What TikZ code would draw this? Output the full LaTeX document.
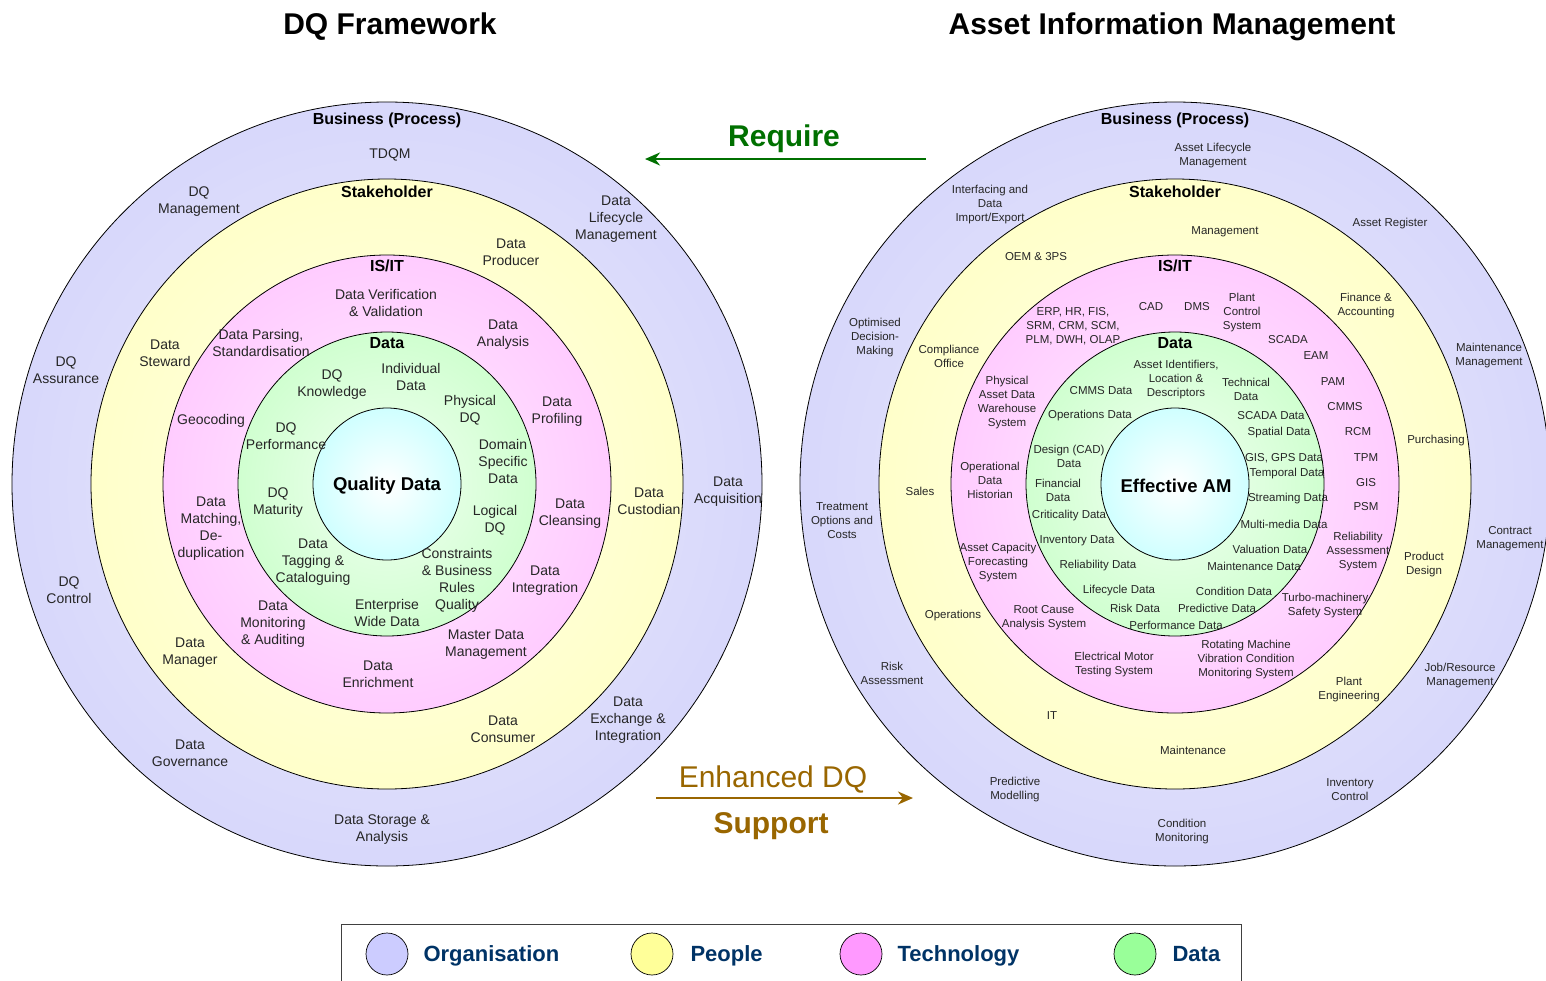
\documentclass[tikz,border=0pt]{standalone}
\usepackage{fontspec}
\setmainfont{Liberation Sans}
\usetikzlibrary{calc,positioning,arrows.meta}

\definecolor{orgRing}{RGB}{208,208,250}
\definecolor{pplRing}{RGB}{255,255,192}
\definecolor{techRing}{RGB}{255,190,255}
\definecolor{dataRing}{RGB}{190,255,190}
\definecolor{coreRing}{RGB}{190,255,255}
\definecolor{orgLeg}{RGB}{204,204,255}
\definecolor{pplLeg}{RGB}{255,255,153}
\definecolor{techLeg}{RGB}{255,153,255}
\definecolor{dataLeg}{RGB}{153,255,153}
\definecolor{legNavy}{RGB}{0,51,102}
\definecolor{reqGreen}{RGB}{0,112,0}
\definecolor{supBrown}{RGB}{153,102,0}

\pgfdeclareradialshading{orgShade}{\pgfpoint{0bp}{0bp}}{color(0bp)=(orgRing!40!white); color(34bp)=(orgRing); color(50bp)=(orgRing)}
\pgfdeclareradialshading{pplShade}{\pgfpoint{0bp}{0bp}}{color(0bp)=(pplRing!40!white); color(34bp)=(pplRing); color(50bp)=(pplRing)}
\pgfdeclareradialshading{techShade}{\pgfpoint{0bp}{0bp}}{color(0bp)=(techRing!30!white); color(36bp)=(techRing); color(50bp)=(techRing)}
\pgfdeclareradialshading{dataShade}{\pgfpoint{0bp}{0bp}}{color(0bp)=(dataRing!20!white); color(38bp)=(dataRing); color(50bp)=(dataRing)}
\pgfdeclareradialshading{coreShade}{\pgfpoint{0bp}{0bp}}{color(0bp)=(white); color(34bp)=(coreRing); color(50bp)=(coreRing)}

\tikzset{
    lbl/.style={font=\fontsize{14}{17}\selectfont, align=center, inner sep=0pt, text=black!85},
    slbl/.style={font=\fontsize{11.5}{14}\selectfont, align=center, inner sep=0pt, text=black!85},
    ringhdr/.style={font=\fontsize{16}{19}\selectfont\bfseries, inner sep=0pt},
    corehdr/.style={font=\fontsize{18.5}{22}\selectfont\bfseries, inner sep=0pt},
    bigtitle/.style={font=\fontsize{30}{34}\selectfont\bfseries, inner sep=0pt,
        text height=22pt, text depth=0pt},
    ring/.style={draw=black, line width=0.8pt},
    legdot/.style={circle, draw=black, line width=0.7pt, minimum size=42pt, inner sep=0pt},
    legtxt/.style={font=\fontsize{22}{26}\selectfont\bfseries, text=legNavy, inner sep=0pt,
        text height=16pt, text depth=1pt, anchor=west}
}

\begin{document}
\begin{tikzpicture}[x=1pt,y=-1pt,>={Stealth[length=15pt,width=13pt]}]

    \useasboundingbox (0,0) rectangle (1546,980);

    %Titres
    \node[bigtitle] (dqTitle) at (390,23) {DQ Framework};
    \node[bigtitle] (amTitle) at (1172,23) {Asset Information Management};

    %Anneaux gauche
    \coordinate (dqCentre) at (387,484);
    \shade[ring, shading=orgShade] (dqCentre) ellipse [x radius=375, y radius=382];
    \shade[ring, shading=pplShade] (dqCentre) ellipse [x radius=296, y radius=305];
    \shade[ring, shading=techShade] (dqCentre) ellipse [x radius=224, y radius=229];
    \shade[ring, shading=dataShade] (dqCentre) ellipse [x radius=149, y radius=152];
    \shade[ring, shading=coreShade] (dqCentre) ellipse [x radius=74, y radius=76];

    %Anneaux droite
    \coordinate (amCentre) at (1175,484);
    \shade[ring, shading=orgShade] (amCentre) ellipse [x radius=375, y radius=382];
    \shade[ring, shading=pplShade] (amCentre) ellipse [x radius=296, y radius=305];
    \shade[ring, shading=techShade] (amCentre) ellipse [x radius=224, y radius=229];
    \shade[ring, shading=dataShade] (amCentre) ellipse [x radius=149, y radius=152];
    \shade[ring, shading=coreShade] (amCentre) ellipse [x radius=74, y radius=76];

    %Gauche - Business
    \node[ringhdr] (dqBusiness) at (387,120) {Business (Process)};
    \node[lbl] (dqTDQM) at (390,155) {TDQM};
    \node[lbl] (dqMgmt) at (199,202) {DQ\\Management};
    \node[lbl] (dqLifecycle) at (616,219) {Data\\Lifecycle\\Management};
    \node[lbl] (dqAssurance) at (66,370) {DQ\\Assurance};
    \node[lbl] (dqAcquisition) at (728,492) {Data\\Acquisition};
    \node[lbl] (dqControl) at (69,590) {DQ\\Control};
    \node[lbl] (dqGovernance) at (190,753) {Data\\Governance};
    \node[lbl] (dqStorage) at (382,830) {Data Storage \&\\Analysis};
    \node[lbl] (dqExchange) at (628,720) {Data\\Exchange \&\\Integration};

    %Gauche - Stakeholder
    \node[ringhdr] (dqStakeholder) at (387,192) {Stakeholder};
    \node[lbl] (dqProducer) at (511,252) {Data\\Producer};
    \node[lbl] (dqSteward) at (165,353) {Data\\Steward};
    \node[lbl] (dqCustodian) at (649,501) {Data\\Custodian};
    \node[lbl] (dqManager) at (190,653) {Data\\Manager};
    \node[lbl] (dqConsumer) at (503,729) {Data\\Consumer};

    %Gauche - IS/IT
    \node[ringhdr] (dqISIT) at (387,266) {IS/IT};
    \node[lbl] (dqVerif) at (386,303) {Data Verification\\\& Validation};
    \node[lbl] (dqParsing) at (261,343) {Data Parsing,\\Standardisation};
    \node[lbl] (dqAnalysis) at (503,335) {Data\\Analysis};
    \node[lbl] (dqProfiling) at (557,412) {Data\\Profiling};
    \node[lbl] (dqGeocoding) at (211,421) {Geocoding};
    \node[lbl] (dqMatching) at (211,529) {Data\\Matching,\\De-\\duplication};
    \node[lbl] (dqCleansing) at (570,514) {Data\\Cleansing};
    \node[lbl] (dqIntegration) at (545,581) {Data\\Integration};
    \node[lbl] (dqMonitoring) at (273,624) {Data\\Monitoring\\\& Auditing};
    \node[lbl] (dqMaster) at (486,645) {Master Data\\Management};
    \node[lbl] (dqEnrichment) at (378,674) {Data\\Enrichment};

    %Gauche - Data
    \node[ringhdr] (dqData) at (387,343) {Data};
    \node[lbl] (dqIndividual) at (411,377) {Individual\\Data};
    \node[lbl] (dqKnowledge) at (332,385) {DQ\\Knowledge};
    \node[lbl] (dqPhysical) at (470,410) {Physical\\DQ};
    \node[lbl] (dqPerformance) at (286,436) {DQ\\Performance};
    \node[lbl] (dqDomain) at (503,461) {Domain\\Specific\\Data};
    \node[lbl] (dqMaturity) at (278,503) {DQ\\Maturity};
    \node[lbl] (dqLogical) at (495,520) {Logical\\DQ};
    \node[lbl] (dqTagging) at (313,562) {Data\\Tagging \&\\Cataloguing};
    \node[lbl] (dqConstraints) at (457,580) {Constraints\\\& Business\\Rules\\Quality};
    \node[lbl] (dqEnterprise) at (387,613) {Enterprise\\Wide Data};
    \node[corehdr] (dqQuality) at (387,486) {Quality Data};

    %Droite - Business
    \node[ringhdr] (amBusiness) at (1175,120) {Business (Process)};
    \node[slbl] (amLifecycle) at (1213,156) {Asset Lifecycle\\Management};
    \node[slbl] (amInterfacing) at (990,205) {Interfacing and\\Data\\Import/Export};
    \node[slbl] (amRegister) at (1390,224) {Asset Register};
    \node[slbl] (amOptimised) at (875,338) {Optimised\\Decision-\\Making};
    \node[slbl] (amMaintMgmt) at (1489,356) {Maintenance\\Management};
    \node[slbl] (amPurchasing) at (1436,441) {Purchasing};
    \node[slbl] (amTreatment) at (842,521) {Treatment\\Options and\\Costs};
    \node[slbl] (amContract) at (1510,539) {Contract\\Management};
    \node[slbl] (amRisk) at (892,673) {Risk\\Assessment};
    \node[slbl] (amJob) at (1460,676) {Job/Resource\\Management};
    \node[slbl] (amPredictive) at (1015,790) {Predictive\\Modelling};
    \node[slbl] (amInventory) at (1350,790) {Inventory\\Control};
    \node[slbl] (amCondition) at (1182,832) {Condition\\Monitoring};

    %Droite - Stakeholder
    \node[ringhdr] (amStakeholder) at (1175,192) {Stakeholder};
    \node[slbl] (amManagement) at (1225,232) {Management};
    \node[slbl] (amOEM) at (1036,257) {OEM \& 3PS};
    \node[slbl] (amFinance) at (1366,306) {Finance \&\\Accounting};
    \node[slbl] (amCompliance) at (949,356) {Compliance\\Office};
    \node[slbl] (amSales) at (920,491) {Sales};
    \node[slbl] (amProduct) at (1424,565) {Product\\Design};
    \node[slbl] (amOperations) at (953,616) {Operations};
    \node[slbl] (amPlant) at (1349,690) {Plant\\Engineering};
    \node[slbl] (amIT) at (1052,716) {IT};
    \node[slbl] (amMaintenance) at (1193,750) {Maintenance};

    %Droite - IS/IT
    \node[ringhdr] (amISIT) at (1175,266) {IS/IT};
    \node[slbl] (amERP) at (1073,326) {ERP, HR, FIS,\\SRM, CRM, SCM,\\PLM, DWH, OLAP};
    \node[slbl] (amCAD) at (1151,307) {CAD};
    \node[slbl] (amDMS) at (1197,307) {DMS};
    \node[slbl] (amPlantCtrl) at (1242,313) {Plant\\Control\\System};
    \node[slbl] (amSCADA) at (1288,340) {SCADA};
    \node[slbl] (amEAM) at (1316,356) {EAM};
    \node[slbl] (amPAM) at (1333,382) {PAM};
    \node[slbl] (amCMMS) at (1345,407) {CMMS};
    \node[slbl] (amRCM) at (1358,432) {RCM};
    \node[slbl] (amTPM) at (1366,458) {TPM};
    \node[slbl] (amGIS) at (1366,483) {GIS};
    \node[slbl] (amPSM) at (1366,507) {PSM};
    \node[slbl] (amReliab) at (1358,552) {Reliability\\Assessment\\System};
    \node[slbl] (amTurbo) at (1325,606) {Turbo-machinery\\Safety System};
    \node[slbl] (amRotating) at (1246,660) {Rotating Machine\\Vibration Condition\\Monitoring System};
    \node[slbl] (amMotor) at (1114,665) {Electrical Motor\\Testing System};
    \node[slbl] (amRootCause) at (1044,618) {Root Cause\\Analysis System};
    \node[slbl] (amCapacity) at (998,563) {Asset Capacity\\Forecasting\\System};
    \node[slbl] (amHistorian) at (990,480) {Operational\\Data\\Historian};
    \node[slbl] (amWarehouse) at (1007,403) {Physical\\Asset Data\\Warehouse\\System};

    %Droite - Data
    \node[ringhdr] (amData) at (1175,343) {Data};
    \node[slbl] (amIdentifiers) at (1176,380) {Asset Identifiers,\\Location \&\\Descriptors};
    \node[slbl] (amCMMSData) at (1101,391) {CMMS Data};
    \node[slbl] (amTechnical) at (1246,389) {Technical\\Data};
    \node[slbl] (amOpsData) at (1090,416) {Operations Data};
    \node[slbl] (amSCADAData) at (1271,416) {SCADA Data};
    \node[slbl] (amSpatial) at (1279,433) {Spatial Data};
    \node[slbl] (amDesign) at (1069,456) {Design (CAD)\\Data};
    \node[slbl] (amGPS) at (1284,458) {GIS, GPS Data};
    \node[slbl] (amTemporal) at (1287,474) {Temporal Data};
    \node[slbl] (amFinancial) at (1058,490) {Financial\\Data};
    \node[slbl] (amStreaming) at (1288,499) {Streaming Data};
    \node[slbl] (amCriticality) at (1069,516) {Criticality Data};
    \node[slbl] (amMultimedia) at (1284,524) {Multi-media Data};
    \node[slbl] (amInvData) at (1077,541) {Inventory Data};
    \node[slbl] (amValuation) at (1270,549) {Valuation Data};
    \node[slbl] (amReliabData) at (1098,566) {Reliability Data};
    \node[slbl] (amMaintData) at (1254,566) {Maintenance Data};
    \node[slbl] (amLifeData) at (1119,591) {Lifecycle Data};
    \node[slbl] (amCondData) at (1234,591) {Condition Data};
    \node[slbl] (amRiskData) at (1135,608) {Risk Data};
    \node[slbl] (amPredData) at (1217,608) {Predictive Data};
    \node[slbl] (amPerfData) at (1176,625) {Performance Data};
    \node[corehdr] (amEffective) at (1176,486) {Effective AM};

    %Fleches
    \coordinate (reqStart) at (926,159);
    \coordinate (reqEnd) at (645,159);
    \draw[->, reqGreen, line width=2.8pt] (reqStart) -- (reqEnd);
    \node[bigtitle, text=reqGreen] (reqTxt) at (784,135) {Require};

    \coordinate (supStart) at (656,798);
    \coordinate (supEnd) at (913,798);
    \draw[->, supBrown, line width=2.8pt] (supStart) -- (supEnd);
    \node[bigtitle, font=\fontsize{30}{34}\selectfont, text=supBrown] (enhTxt) at (773,776) {Enhanced DQ};
    \node[bigtitle, text=supBrown] (supTxt) at (771,822) {Support};

    %Legende
    \draw[black!75, line width=0.8pt] (341,924) rectangle (1241,995);
    \node[legdot, fill=orgLeg] (legOrg) at (387,954) {};
    \node[legdot, fill=pplLeg] (legPpl) at (652,954) {};
    \node[legdot, fill=techLeg] (legTech) at (861,954) {};
    \node[legdot, fill=dataLeg] (legData) at (1135,954) {};
    \node[legtxt, right=15pt of legOrg] (legOrgTxt) {Organisation};
    \node[legtxt, right=17pt of legPpl] (legPplTxt) {People};
    \node[legtxt, right=15pt of legTech] (legTechTxt) {Technology};
    \node[legtxt, right=16pt of legData] (legDataTxt) {Data};

\end{tikzpicture}
\end{document}
